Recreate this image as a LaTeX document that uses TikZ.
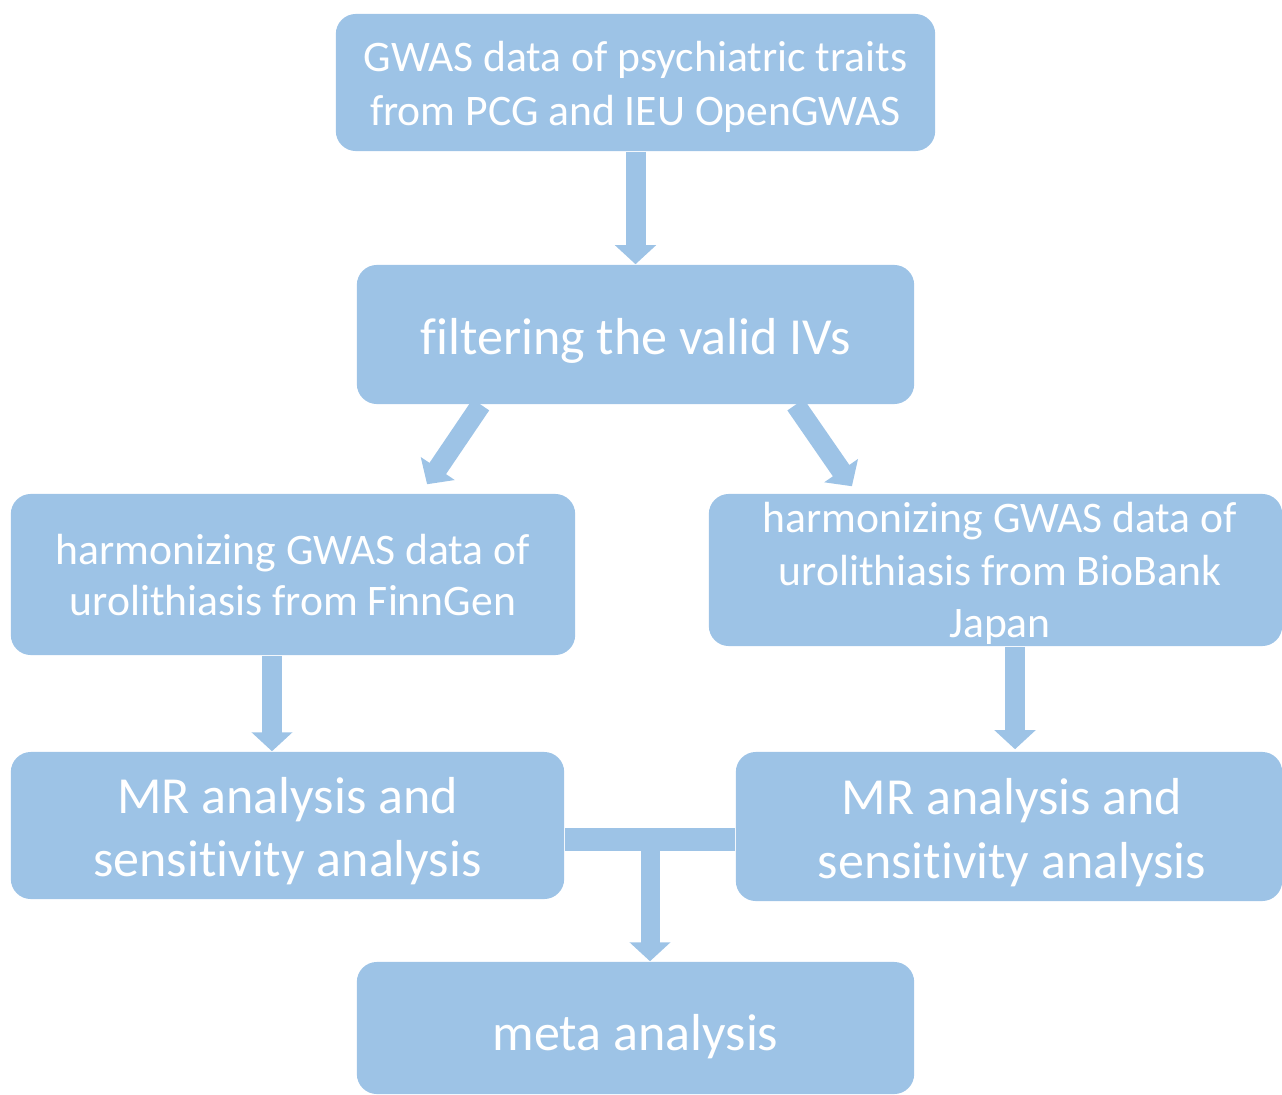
\documentclass[tikz,border=0pt]{standalone}
\usepackage{fontspec}
\setmainfont{Carlito}[Ligatures=NoCommon]
\usetikzlibrary{arrows.meta}
\definecolor{boxblue}{HTML}{9DC3E6}
\tikzset{
  box/.style={rectangle, rounded corners=0.2cm, fill=boxblue, inner sep=0pt},
  boxtext/.style={text=white, align=center, inner sep=0pt},
  flow/.style={draw=boxblue, line width=0.2cm, -{Triangle[width=0.4cm,length=0.19cm]}},
  smalltxt/.style={font=\fontsize{12.4}{#1}\selectfont},
  bigtxt/.style={font=\fontsize{14.8}{#1}\selectfont}
}
\begin{document}
\begin{tikzpicture}[x=0.01cm,y=-0.01cm]
        \useasboundingbox (0,0) rectangle (1282,1094);

        % boxes
        \node[box, minimum width=5.99cm, minimum height=1.37cm,
            label={[boxtext, smalltxt=15.2pt, yshift=-0.045cm]center:{GWAS data of psychiatric traits\\from PCG and IEU OpenGWAS}}]
            (gwas) at (635.5,82.5) {};
        \node[box, minimum width=5.57cm, minimum height=1.39cm,
            label={[boxtext, bigtxt=17pt, yshift=-0.064cm]center:{filtering the valid IVs}}]
            (filter) at (635.5,334.5) {};
        \node[box, minimum width=5.64cm, minimum height=1.61cm,
            label={[boxtext, smalltxt=14.7pt, yshift=-0.005cm]center:{harmonizing GWAS data of\\urolithiasis from FinnGen}}]
            (finn) at (293,574.5) {};
        \node[box, minimum width=5.73cm, minimum height=1.52cm,
            label={[boxtext, smalltxt=14.9pt, yshift=-0.035cm, xshift=0.045cm]center:{harmonizing GWAS data of\\urolithiasis from BioBank\\Japan}}]
            (bbj) at (995.5,570) {};
        \node[box, minimum width=5.53cm, minimum height=1.47cm,
            label={[boxtext, bigtxt=17.93pt, yshift=-0.055cm]center:{MR analysis and\\sensitivity analysis}}]
            (mrfinn) at (287.5,825.5) {};
        \node[box, minimum width=5.46cm, minimum height=1.49cm,
            label={[boxtext, bigtxt=18.2pt, yshift=-0.058cm, xshift=0.03cm]center:{MR analysis and\\sensitivity analysis}}]
            (mrbbj) at (1009,826.5) {};
        \node[box, minimum width=5.57cm, minimum height=1.32cm,
            label={[boxtext, bigtxt=17pt, yshift=-0.082cm]center:{meta analysis}}]
            (meta) at (635.5,1028) {};

        % arrows
        \draw[flow] (gwas.south) -- (filter.north);
        \draw[flow] ([xshift=-1.545cm]filter.south) -- ([xshift=1.34cm,yshift=0.09cm]finn.north);
        \draw[flow] ([xshift=1.6cm]filter.south) -- ([xshift=-1.435cm,yshift=0.07cm]bbj.north);
        \draw[flow] ([xshift=-0.21cm]finn.south) -- ([xshift=-0.21cm]finn.south |- mrfinn.north);
        \draw[flow] ([xshift=0.195cm]bbj.south) -- ([xshift=0.195cm,yshift=0.02cm]bbj.south |- mrbbj.north);

        % joining both MR results
        \coordinate (join) at ([xshift=0.145cm]meta.north |- 0,839);
        \draw[boxblue, line width=0.23cm] (mrfinn.east |- join) -- (mrbbj.west |- join);
        \draw[flow, line width=0.19cm] (join) -- ([xshift=0.145cm]meta.north);
\end{tikzpicture}
\end{document}
